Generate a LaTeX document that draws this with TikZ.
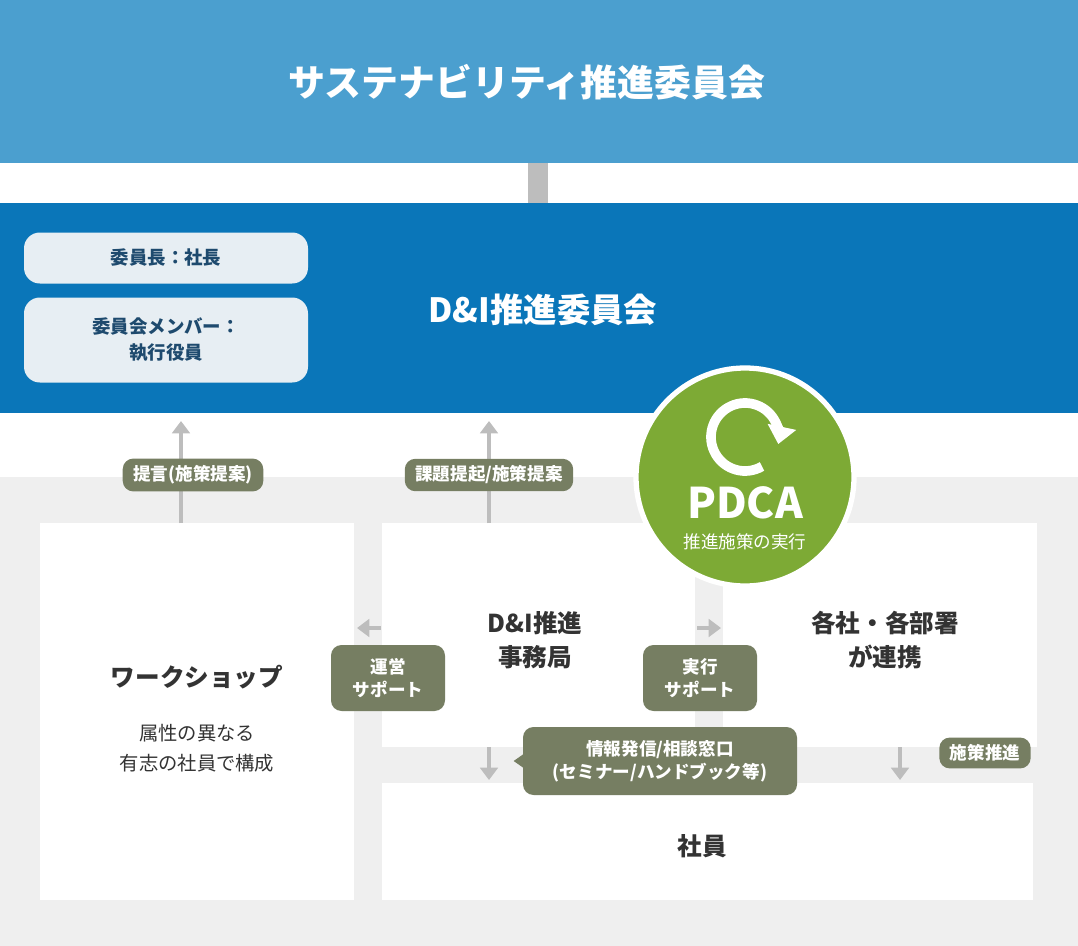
\documentclass[tikz,border=0pt]{standalone}
\usepackage{fontspec}
\setmainfont{Noto Sans CJK JP}
\usetikzlibrary{arrows.meta, positioning, shapes.geometric}
\definecolor{topblue}{HTML}{4B9FCF}
\definecolor{dniblue}{HTML}{0A76B9}
\definecolor{paleblue}{HTML}{E7EEF3}
\definecolor{navytext}{HTML}{1E4A6E}
\definecolor{bggray}{HTML}{EFEFEF}
\definecolor{linkgray}{HTML}{BDBDBD}
\definecolor{olivetag}{HTML}{767E62}
\definecolor{pdcagreen}{HTML}{7DAA35}
\definecolor{inktext}{HTML}{333333}

\begin{document}
\begin{tikzpicture}[
    x=0.02cm, y=-0.02cm,
    every node/.style={font=\bfseries, align=center, inner sep=0pt},
    panel/.style={fill=white, draw=none},
    rolebox/.style={fill=paleblue, rounded corners=9pt, text=navytext, font=\bfseries\fontsize{10.5}{15}\selectfont},
    tag/.style={fill=olivetag, text=white, rounded corners=6pt, inner xsep=6pt, inner ysep=4pt, font=\bfseries\fontsize{10}{13}\selectfont},
    link/.style={draw=linkgray, line width=2.2pt, -{Triangle[length=7pt, width=10pt]}},
    boxtitle/.style={text=inktext, font=\bfseries\fontsize{14}{19}\selectfont}
]
    \useasboundingbox (0,0) rectangle (1078,946);
    % bands
    \fill[bggray] (0,477) rectangle (1078,946);
    \fill[linkgray] (528,160) rectangle (548,206);
    \fill[topblue] (0,0) rectangle (1078,163);
    \fill[dniblue] (0,203) rectangle (1078,413);
    \node[text=white, font=\bfseries\fontsize{21}{25}\selectfont] (susta) at (527,82) {サステナビリティ推進委員会};
    \node[text=white, font=\bfseries\fontsize{19}{23}\selectfont] (dni) at (543,310) {D\&I推進委員会};
    \node[rolebox, minimum width=284*0.02cm, minimum height=51*0.02cm] (chair) at (166,258) {委員長：社長};
    \node[rolebox, minimum width=284*0.02cm, minimum height=85*0.02cm] (member) at (166,340) {委員会メンバー：\\執行役員};

    % white panels
    \node[panel, minimum width=314*0.02cm, minimum height=377*0.02cm] (ws) at (197,711.5) {};
    \node[panel, minimum width=313*0.02cm, minimum height=224*0.02cm] (office) at (538.5,635) {};
    \node[panel, minimum width=314*0.02cm, minimum height=224*0.02cm] (units) at (880,635) {};
    \node[panel, minimum width=651*0.02cm, minimum height=117*0.02cm] (staff) at (707.5,841.5) {};
    \node[boxtitle] (wstitle) at (197,677) {ワークショップ};
    \node[text=inktext, font=\fontsize{11}{17}\selectfont] (wsnote) at (197,748) {属性の異なる\\有志の社員で構成};
    \node[boxtitle] (officetitle) at (535,640) {D\&I推進\\事務局};
    \node[boxtitle] (unitstitle) at (885,640) {各社・各部署\\が連携};
    \node[boxtitle] (stafftitle) at (702,846) {社員};

    % connectors
    \coordinate (wstop) at (181,523);
    \coordinate (wsup) at (181,421);
    \coordinate (oftop) at (489,523);
    \coordinate (ofup) at (489,421);
    \draw[link] (wstop) -- (wsup);
    \draw[link] (oftop) -- (ofup);
    \draw[link] (381,628) -- (357,628);
    \draw[link] (697,628) -- (721,628);
    \draw[link] (489,747) -- (489,780);
    \draw[link] (900,747) -- (900,780);

    % tags
    \node[tag] (propose) at (193,475) {提言(施策提案)};
    \node[tag] (raise) at (489,475) {課題提起/施策提案};
    \node[tag, minimum width=114*0.02cm, minimum height=66*0.02cm] (opsup) at (388,678) {運営\\サポート};
    \node[tag, minimum width=114*0.02cm, minimum height=66*0.02cm] (runsup) at (700,678) {実行\\サポート};
    \node[tag, minimum width=274*0.02cm, minimum height=68*0.02cm] (info) at (660,761) {情報発信/相談窓口\\(セミナー/ハンドブック等)};
    \fill[olivetag] (info.west) ++(1,-7) -- ++(-10,7) -- ++(10,7) -- cycle;
    \node[tag] (push) at (985,753) {施策推進};

    % PDCA
    \node[circle, fill=pdcagreen, draw=white, line width=3pt, minimum size=218*0.02cm] (pdca) at (745,477) {};
    \coordinate (cycle) at (745,437);
    \draw[white, line width=5.5pt, -{Triangle[length=10pt, width=16pt]}]
        (cycle) ++(-60:34*0.02cm) arc[start angle=-60, end angle=-372, radius=34*0.02cm];
    \node[text=white, font=\bfseries\fontsize{24}{26}\selectfont] (pdcatext) at (745,503) {PDCA};
    \node[text=white, font=\fontsize{10}{12}\selectfont] (pdcanote) at (745,542) {推進施策の実行};
\end{tikzpicture}
\end{document}
